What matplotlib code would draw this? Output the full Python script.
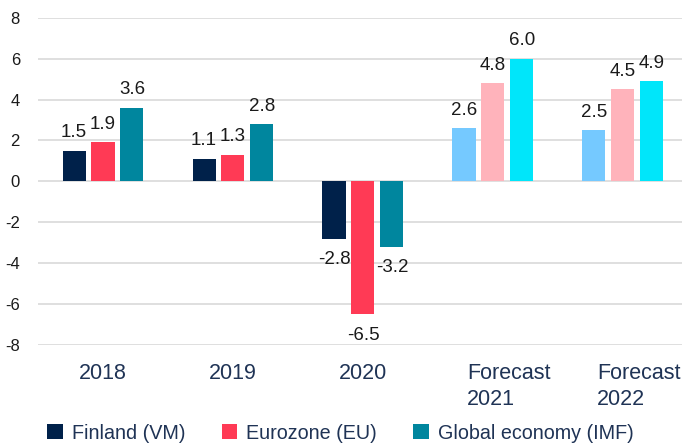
import matplotlib
matplotlib.use('Agg')
import matplotlib.pyplot as plt
import matplotlib.transforms as mtransforms
from matplotlib.patches import Patch
import numpy as np

plt.rcParams['font.family'] = ['Liberation Sans', 'DejaVu Sans']
plt.rcParams['axes.unicode_minus'] = False

categories = ['2018', '2019', '2020', 'Forecast\n2021', 'Forecast\n2022']
series_names = ['Finland (VM)', 'Eurozone (EU)', 'Global economy (IMF)']
finland = [1.5, 1.1, -2.8, 2.6, 2.5]
eurozone = [1.9, 1.3, -6.5, 4.8, 4.5]
global_econ = [3.6, 2.8, -3.2, 6.0, 4.9]
is_forecast = [False, False, False, True, True]

actual_colors = ['#00214A', '#FF3A55', '#00869E']
forecast_colors = ['#75C9FF', '#FFB3BB', '#00E6FA']
label_color = '#1F3355'

fig = plt.figure(figsize=(6.82, 4.47), dpi=100)
ax = fig.add_axes([38 / 682, 1 - 345 / 447, 644 / 682, (345 - 17.7) / 447])

x = np.arange(len(categories))
width = 0.177
step = 0.223

for k, vals in enumerate([finland, eurozone, global_econ]):
    cols = [forecast_colors[k] if f else actual_colors[k] for f in is_forecast]
    pos = x + (k - 1) * step
    ax.bar(pos, vals, width, color=cols, zorder=3)
    for px, v in zip(pos, vals):
        off = 13 if v >= 0 else -15
        ax.annotate(f'{v:.1f}', (px, v), xytext=(0, off), textcoords='offset points',
                    ha='center', va='center', fontsize=13.5, color='#1a1a1a')

ax.set_ylim(-8, 8)
ax.set_xlim(-0.5, 4.454)
ax.set_yticks(range(-8, 9, 2))
ax.yaxis.grid(True, color='#D9D9D9', linewidth=1.2, zorder=0)
ax.set_axisbelow(True)
for s in ax.spines.values():
    s.set_visible(False)
ax.tick_params(axis='both', length=0)
ax.tick_params(axis='y', pad=13, labelsize=12, labelcolor='#1a1a1a')
ax.tick_params(axis='x', pad=13, labelsize=15.5, labelcolor=label_color)

ax.set_xticks(x)
ax.set_xticklabels(categories)
shift = mtransforms.ScaledTranslation(-0.26, 0, fig.dpi_scale_trans)
for lbl, f in zip(ax.get_xticklabels(), is_forecast):
    if f:
        lbl.set_horizontalalignment('left')
        lbl.set_multialignment('left')
        lbl.set_linespacing(1.3)
        lbl.set_transform(lbl.get_transform() + shift)

handles = [Patch(facecolor=c) for c in actual_colors]
fig.legend(handles, series_names, loc='center', bbox_to_anchor=(0.4993, 0.031),
           ncol=3, frameon=False, fontsize=14.2, labelcolor=label_color,
           handlelength=0.78, handleheight=0.78, handletextpad=0.46,
           columnspacing=1.85, borderaxespad=0, borderpad=0)

fig.savefig('out.png', dpi=100)
